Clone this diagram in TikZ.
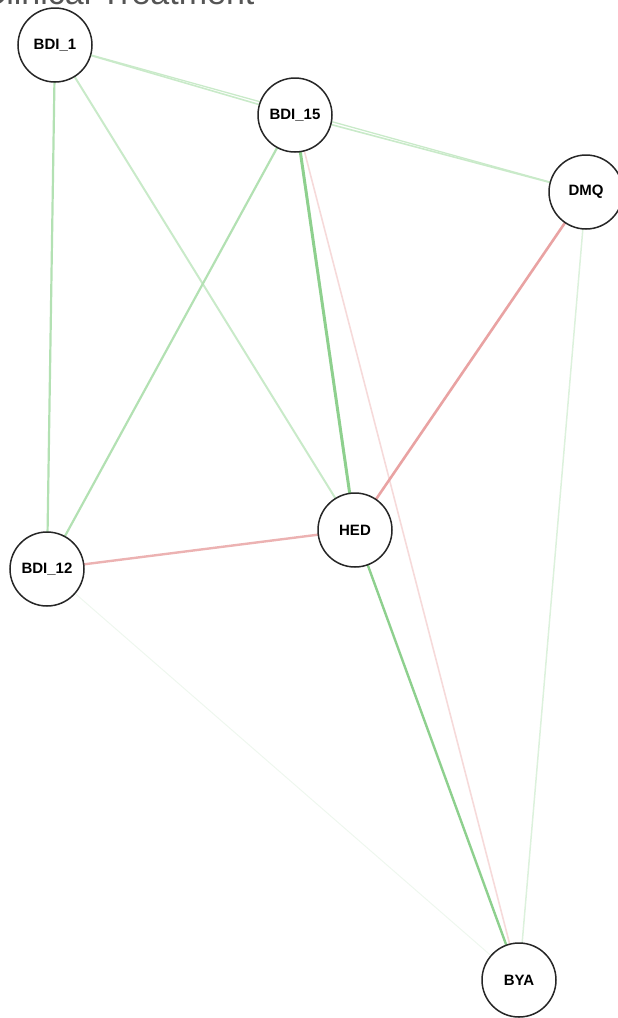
\documentclass[tikz,border=0pt]{standalone}
\usepackage{fontspec}
\setmainfont{Liberation Sans}
\usetikzlibrary{backgrounds}
\definecolor{gA}{HTML}{8ED08E}
\definecolor{gB}{HTML}{B3E1B3}
\definecolor{gC}{HTML}{C9EAC9}
\definecolor{gD}{HTML}{DCF1DC}
\definecolor{gE}{HTML}{EEF7EE}
\definecolor{rA}{HTML}{E9A3A3}
\definecolor{rB}{HTML}{ECB2B2}
\definecolor{rC}{HTML}{F6DADA}
\definecolor{titlegray}{HTML}{555555}
\tikzset{
  vnode/.style={circle, draw=black!85, line width=1.5pt, fill=white, minimum size=74pt, inner sep=0pt, font=\fontsize{15}{17}\selectfont\bfseries},
  edge/.style={line cap=round}
}
\begin{document}
\begin{tikzpicture}[x=1pt,y=-1pt]
\useasboundingbox (0,0) rectangle (618,1018);
\clip (0,0) rectangle (618,1018);
\node[anchor=base east, text=titlegray, font=\fontsize{34}{36}\selectfont] (title) at (258,4) {Clinical Treatment};
\node[vnode] (b1) at (55,45) {BDI\_1};
\node[vnode] (b15) at (295,115) {BDI\_15};
\node[vnode] (dmq) at (586,192) {DMQ};
\node[vnode] (hed) at (355,530) {HED};
\node[vnode] (b12) at (47,569) {BDI\_12};
\node[vnode] (bya) at (519,980) {BYA};
\begin{scope}[on background layer]
\draw[edge, gE, line width=1pt] (b12.center) -- (bya.center);
\draw[edge, gD, line width=1.5pt] (dmq.center) -- (bya.center);
\draw[edge, rC, line width=1.6pt] (b15.center) -- (bya.center);
\draw[edge, gC, line width=1.3pt] (b1.center) -- (dmq.center);
\draw[edge, gC, line width=1.6pt] (b1.center) -- (b15.center);
\draw[edge, gC, line width=1.6pt] (b15.center) -- (dmq.center);
\draw[edge, gB, line width=2.2pt] (b1.center) -- (b12.center);
\draw[edge, gC, line width=2pt] (b1.center) -- (hed.center);
\draw[edge, gB, line width=2.2pt] (b15.center) -- (b12.center);
\draw[edge, gA, line width=3pt] (b15.center) -- (hed.center);
\draw[edge, rA, line width=2.6pt] (dmq.center) -- (hed.center);
\draw[edge, rB, line width=2.4pt] (b12.center) -- (hed.center);
\draw[edge, gA, line width=2.4pt] (hed.center) -- (bya.center);
\end{scope}
\end{tikzpicture}
\end{document}
